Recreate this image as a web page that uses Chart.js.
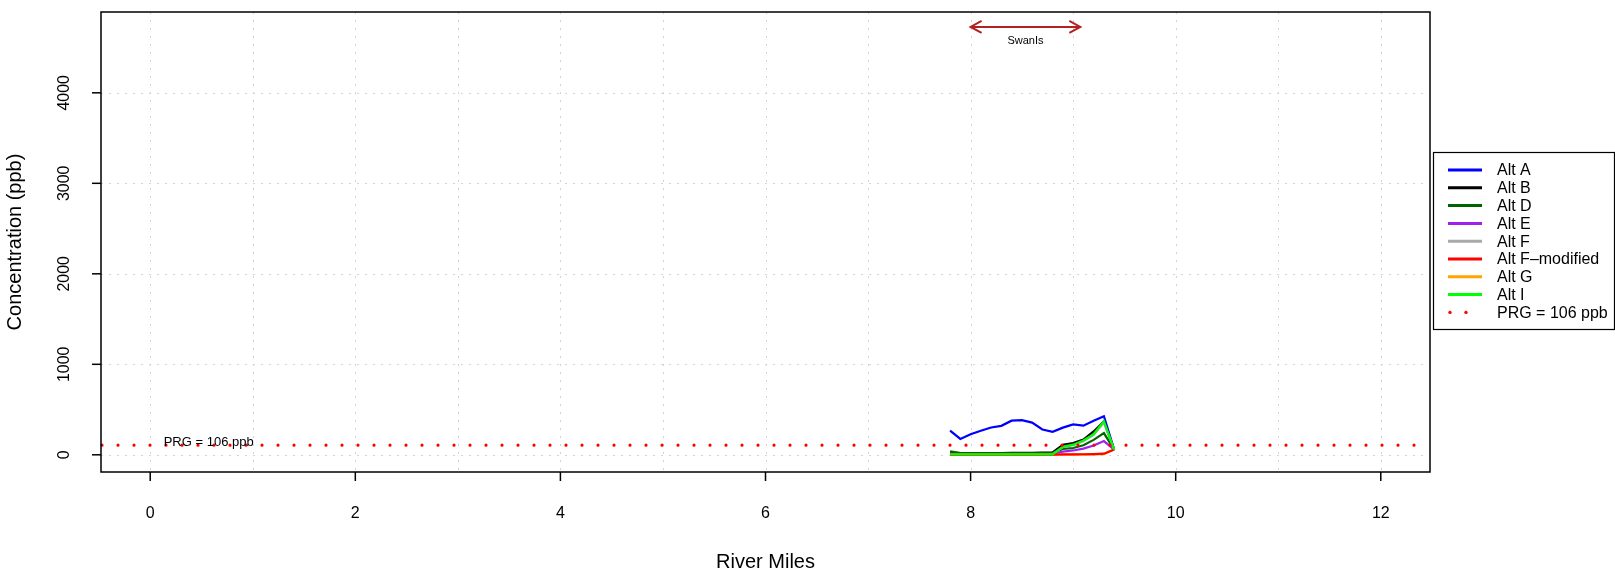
<!DOCTYPE html>
<html>
<head>
<meta charset="utf-8">
<script src="https://cdn.jsdelivr.net/npm/chart.js@4/dist/chart.umd.min.js"></script>
<style>
  html, body { margin: 0; padding: 0; background: #ffffff; }
  #wrap { width: 1615px; height: 577px; }
</style>
</head>
<body>
<div id="wrap"><canvas id="chart" width="1615" height="577"></canvas></div>
<script>
// river miles sampled along the reach
const miles = [7.8, 7.9, 8.0, 8.1, 8.2, 8.3, 8.4, 8.5, 8.6, 8.7, 8.8, 8.9, 9.0, 9.1, 9.2, 9.3, 9.4];

// concentration (ppb) per alternative
const altA = [268, 175, 228, 265, 302, 320, 377, 383, 356, 280, 255, 300, 336, 322, 375, 426, 58];
const altB = [25, 20, 20, 20, 20, 20, 22, 22, 22, 24, 26, 110, 130, 168, 258, 368, 58];
const altD = [38, 20, 18, 18, 18, 18, 18, 18, 18, 20, 20, 65, 75, 105, 165, 240, 58];
const altE = [10, 8, 8, 8, 8, 8, 8, 8, 8, 8, 10, 35, 48, 68, 102, 152, 58];
const altF = [6, 6, 6, 6, 6, 6, 6, 6, 6, 6, 6, 85, 105, 150, 220, 355, 58];
const altFmod = [3, 3, 3, 3, 3, 3, 3, 3, 3, 3, 3, 4, 5, 6, 8, 12, 58];
const altG = [1, 1, 1, 1, 1, 1, 1, 1, 1, 1, 1, 2, 2, 3, 4, 6, 58];
const altI = [5, 5, 5, 5, 5, 5, 5, 5, 5, 5, 5, 90, 112, 158, 228, 372, 58];

const seriesNames = ['Alt A', 'Alt B', 'Alt D', 'Alt E', 'Alt F', 'Alt F\u2013modified', 'Alt G', 'Alt I'];
const seriesValues = [altA, altB, altD, altE, altF, altFmod, altG, altI];
const seriesColors = ['#0000FF', '#000000', '#006400', '#A020F0', '#A9A9A9', '#FF0000', '#FFA500', '#00FF00'];
// higher = drawn earlier (underneath)
const drawOrder = [8, 7, 6, 5, 4, 2, 3, 1];

const xTicks = [0, 2, 4, 6, 8, 10, 12];
const xGrid = [0, 1, 2, 3, 4, 5, 6, 7, 8, 9, 10, 11, 12];
const yTicks = [0, 1000, 2000, 3000, 4000];

const prgValue = 106;
const prgLabel = 'PRG = 106 ppb';
const prgLabelPos = [0.57, 135];

const reachName = 'SwanIs';
const reachRange = [8.0, 9.07];
const reachY = 4728;
const reachLabelY = 4570;

const FONT = '"Liberation Sans", Arial, Helvetica, sans-serif';

const datasets = seriesNames.map((name, i) => ({
    label: name,
    data: miles.map((m, j) => ({ x: m, y: seriesValues[i][j] })),
    borderColor: seriesColors[i],
    backgroundColor: seriesColors[i],
    borderWidth: 2.2,
    pointRadius: 0,
    tension: 0,
    fill: false,
    order: drawOrder[i]
}));

const rPlot = {
    id: 'rPlot',
    beforeDatasetsDraw(chart) {
        const { ctx, chartArea: a, scales: { x, y } } = chart;
        ctx.save();
        ctx.strokeStyle = '#D3D3D3';
        ctx.lineWidth = 1;
        ctx.setLineDash([2, 6]);
        xGrid.forEach(v => {
            const px = Math.round(x.getPixelForValue(v)) + 0.5;
            ctx.beginPath(); ctx.moveTo(px, a.top); ctx.lineTo(px, a.bottom); ctx.stroke();
        });
        yTicks.forEach(v => {
            const py = Math.round(y.getPixelForValue(v)) + 0.5;
            ctx.beginPath(); ctx.moveTo(a.left, py); ctx.lineTo(a.right, py); ctx.stroke();
        });
        ctx.restore();
    },
    afterDatasetsDraw(chart) {
        const { ctx, chartArea: a, scales: { x, y } } = chart;
        ctx.save();

        // PRG abline, dotted
        const py = y.getPixelForValue(prgValue);
        ctx.strokeStyle = '#FF0000';
        ctx.lineWidth = 3.2;
        ctx.lineCap = 'round';
        ctx.setLineDash([0, 16]);
        ctx.beginPath(); ctx.moveTo(a.left + 1, py); ctx.lineTo(a.right, py); ctx.stroke();
        ctx.setLineDash([]);
        ctx.lineCap = 'butt';

        ctx.fillStyle = '#000000';
        ctx.font = '13px ' + FONT;
        ctx.textAlign = 'center';
        ctx.textBaseline = 'middle';
        ctx.fillText(prgLabel, x.getPixelForValue(prgLabelPos[0]), y.getPixelForValue(prgLabelPos[1]));

        // reach arrow
        const x0 = x.getPixelForValue(reachRange[0]);
        const x1 = x.getPixelForValue(reachRange[1]);
        const ay = y.getPixelForValue(reachY);
        ctx.strokeStyle = '#B22222';
        ctx.lineWidth = 2;
        ctx.beginPath(); ctx.moveTo(x0, ay); ctx.lineTo(x1, ay); ctx.stroke();
        ctx.beginPath();
        ctx.moveTo(x0 + 11, ay - 6); ctx.lineTo(x0, ay); ctx.lineTo(x0 + 11, ay + 6);
        ctx.moveTo(x1 - 11, ay - 6); ctx.lineTo(x1, ay); ctx.lineTo(x1 - 11, ay + 6);
        ctx.stroke();
        ctx.fillStyle = '#000000';
        ctx.font = '11px ' + FONT;
        ctx.fillText(reachName, (x0 + x1) / 2, y.getPixelForValue(reachLabelY));

        ctx.restore();
    },
    afterDraw(chart) {
        const { ctx, chartArea: a, scales: { x, y } } = chart;
        ctx.save();
        ctx.strokeStyle = '#000000';
        ctx.lineWidth = 1.5;
        ctx.strokeRect(a.left, a.top, a.right - a.left, a.bottom - a.top);

        // x axis
        ctx.fillStyle = '#000000';
        ctx.font = '16px ' + FONT;
        ctx.textAlign = 'center';
        ctx.textBaseline = 'middle';
        xTicks.forEach(v => {
            const px = x.getPixelForValue(v);
            ctx.beginPath(); ctx.moveTo(px, a.bottom); ctx.lineTo(px, a.bottom + 9); ctx.stroke();
            ctx.fillText(String(v), px, a.bottom + 42);
        });

        // y axis, labels rotated like R
        yTicks.forEach(v => {
            const py = y.getPixelForValue(v);
            ctx.beginPath(); ctx.moveTo(a.left, py); ctx.lineTo(a.left - 9, py); ctx.stroke();
            ctx.save();
            ctx.translate(a.left - 36, py);
            ctx.rotate(-Math.PI / 2);
            ctx.fillText(String(v), 0, 0);
            ctx.restore();
        });

        ctx.font = '20px ' + FONT;
        ctx.fillText('River Miles', (a.left + a.right) / 2, 562);
        ctx.save();
        ctx.translate(15, (a.top + a.bottom) / 2);
        ctx.rotate(-Math.PI / 2);
        ctx.fillText('Concentration (ppb)', 0, 0);
        ctx.restore();

        // legend
        const lx = 1433.5, ly = 152.5, lw = 181, lh = 177;
        ctx.fillStyle = '#ffffff';
        ctx.fillRect(lx, ly, lw, lh);
        ctx.strokeStyle = '#000000';
        ctx.lineWidth = 1.2;
        ctx.strokeRect(lx, ly, lw, lh);
        ctx.font = '16px ' + FONT;
        ctx.textAlign = 'left';
        const rowH = 17.8;
        seriesNames.forEach((name, i) => {
            const ry = 170 + i * rowH;
            ctx.strokeStyle = seriesColors[i];
            ctx.lineWidth = 3;
            ctx.beginPath(); ctx.moveTo(1448, ry); ctx.lineTo(1482, ry); ctx.stroke();
            ctx.fillStyle = '#000000';
            ctx.fillText(name, 1497, ry + 1);
        });
        const pry = 170 + seriesNames.length * rowH;
        ctx.fillStyle = '#FF0000';
        [1450, 1466].forEach(dx => {
            ctx.beginPath(); ctx.arc(dx, pry, 1.7, 0, Math.PI * 2); ctx.fill();
        });
        ctx.fillStyle = '#000000';
        ctx.fillText(prgLabel, 1497, pry + 1);
        ctx.restore();
    }
};

new Chart(document.getElementById('chart').getContext('2d'), {
    type: 'line',
    data: { datasets: datasets },
    options: {
        responsive: false,
        animation: false,
        layout: { padding: { left: 101, right: 185, top: 12, bottom: 105 } },
        scales: {
            x: { type: 'linear', min: -0.48, max: 12.48, display: false },
            y: { type: 'linear', min: -190, max: 4893, display: false }
        },
        plugins: {
            legend: { display: false },
            tooltip: { enabled: false }
        }
    },
    plugins: [rPlot]
});
</script>
</body>
</html>
